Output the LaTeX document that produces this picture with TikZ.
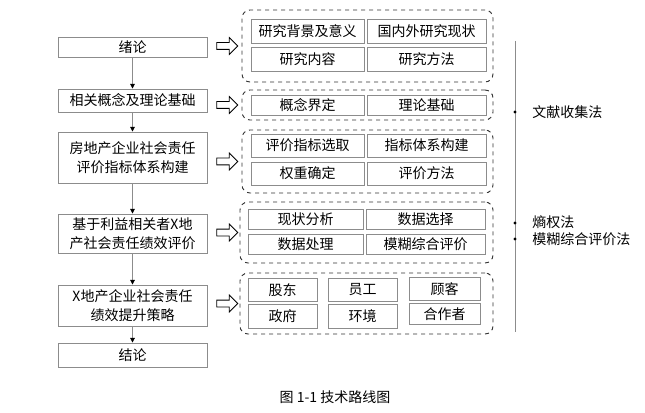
\documentclass[tikz,border=0pt]{standalone}
\usepackage{fontspec}
\setmainfont{Noto Sans CJK SC}
\usetikzlibrary{arrows.meta,shapes.arrows}
\definecolor{boxgray}{RGB}{140,140,140}
\definecolor{dashgray}{RGB}{50,50,50}
\begin{document}
\begin{tikzpicture}[x=0.75pt,y=-0.75pt,
  txt/.style={font=\fontsize{10.5}{14}\selectfont},
  lbox/.style={txt,draw=boxgray,line width=0.7pt,minimum width=111.75pt,align=center,inner sep=0pt},
  ibox/.style={txt,draw=boxgray,line width=0.7pt,inner sep=0pt},
  grp/.style={draw=dashgray,dashed,line width=0.7pt,rounded corners=6pt,minimum width=188.25pt,inner sep=0pt},
  conn/.style={draw=boxgray,line width=0.7pt,-{Triangle[length=3.5pt,width=3.5pt,color=black]}},
  harrow/.style={single arrow,draw=black,line width=0.6pt,minimum width=12pt,minimum height=15.75pt,inner sep=2.25pt,single arrow head extend=3.75pt,single arrow tip angle=90},
  dot/.style={circle,fill=black,inner sep=0pt,minimum size=2.6pt},
  ttl/.style={txt,anchor=west,inner sep=0pt}]
\useasboundingbox (0,0) rectangle (645,413);

% left column
\node[lbox,minimum height=15pt] (b1) at (132.5,47) {绪论};
\node[lbox,minimum height=17.25pt] (b2) at (132.5,100.5) {相关概念及理论基础};
\node[lbox,minimum height=38.25pt] (b3) at (132.5,157.5) {房地产企业社会责任\\评价指标体系构建};
\node[lbox,minimum height=29.25pt] (b4) at (132.5,233.5) {基于利益相关者X地\\产社会责任绩效评价};
\node[lbox,minimum height=30.75pt] (b5) at (132.5,305.5) {X地产企业社会责任\\绩效提升策略};
\node[lbox,minimum height=18pt] (b6) at (132.5,355) {结论};
\draw[conn] (b1) -- (b2);
\draw[conn] (b2) -- (b3);
\draw[conn] (b3) -- (b4);
\draw[conn] (b4) -- (b5);
\draw[conn] (b5) -- (b6);

% groups
\node[grp,minimum height=54pt] (g1) at (367.5,46) {};
\node[grp,minimum height=22.5pt] (g2) at (367.5,105) {};
\node[grp,minimum height=47.25pt] (g3) at (367.5,161.5) {};
\node[grp,minimum width=189.75pt,minimum height=45.75pt] (g4) at (366.5,232.5) {};
\node[grp,minimum width=189.75pt,minimum height=45.75pt] (g5) at (366.5,303.5) {};

% hollow arrows
\node[harrow] (a1) at (225.5,46) {};
\node[harrow] (a2) at (225.5,105) {};
\node[harrow] (a3) at (225.5,161.5) {};
\node[harrow] (a4) at (225.5,232.5) {};
\node[harrow] (a5) at (225.5,303.5) {};

% group 1
\node[ibox,minimum width=84.75pt,minimum height=18pt] (i11) at (307.5,31) {研究背景及意义};
\node[ibox,minimum width=89.25pt,minimum height=18pt] (i12) at (426.5,31) {国内外研究现状};
\node[ibox,minimum width=84.75pt,minimum height=18pt] (i13) at (307.5,59) {研究内容};
\node[ibox,minimum width=89.25pt,minimum height=18pt] (i14) at (426.5,59) {研究方法};
% group 2
\node[ibox,minimum width=84.75pt,minimum height=15pt] (i21) at (307.5,105) {概念界定};
\node[ibox,minimum width=89.25pt,minimum height=15pt] (i22) at (426.5,105) {理论基础};
% group 3
\node[ibox,minimum width=84.75pt,minimum height=17.25pt] (i31) at (307.5,145.5) {评价指标选取};
\node[ibox,minimum width=89.25pt,minimum height=17.25pt] (i32) at (426.5,145.5) {指标体系构建};
\node[ibox,minimum width=84.75pt,minimum height=17.25pt] (i33) at (307.5,173.5) {权重确定};
\node[ibox,minimum width=89.25pt,minimum height=17.25pt] (i34) at (426.5,173.5) {评价方法};
% group 4
\node[ibox,minimum width=86.25pt,minimum height=15pt] (i41) at (305.5,219) {现状分析};
\node[ibox,minimum width=89.25pt,minimum height=15pt] (i42) at (425.5,219) {数据选择};
\node[ibox,minimum width=86.25pt,minimum height=15pt] (i43) at (305.5,244) {数据处理};
\node[ibox,minimum width=89.25pt,minimum height=15pt] (i44) at (425.5,244) {模糊综合评价};
% group 5
\node[ibox,minimum width=51.75pt,minimum height=17.5pt] (i51) at (282.5,290) {股东};
\node[ibox,minimum width=51.75pt,minimum height=17.5pt] (i52) at (362.5,290) {员工};
\node[ibox,minimum width=53.25pt,minimum height=17pt] (i53) at (444.5,289) {顾客};
\node[ibox,minimum width=51.75pt,minimum height=17.5pt] (i54) at (282.5,316.5) {政府};
\node[ibox,minimum width=51.75pt,minimum height=17.5pt] (i55) at (362.5,316.5) {环境};
\node[ibox,minimum width=53.25pt,minimum height=16pt] (i56) at (444.5,314) {合作者};

% methods timeline
\coordinate (t1) at (515,41);
\coordinate (t2) at (515,332);
\draw[draw=boxgray,line width=0.7pt] (t1) -- (t2);
\node[dot] (d1) at (515,112) {};
\node[dot] (d2) at (515,223) {};
\node[dot] (d3) at (515,239) {};
\node[ttl] (m1) at (532,112) {文献收集法};
\node[ttl] (m2) at (532,222) {熵权法};
\node[ttl] (m3) at (532,239) {模糊综合评价法};

% caption
\node[txt] (cap) at (335,397) {图 1-1 技术路线图};
\end{tikzpicture}
\end{document}
